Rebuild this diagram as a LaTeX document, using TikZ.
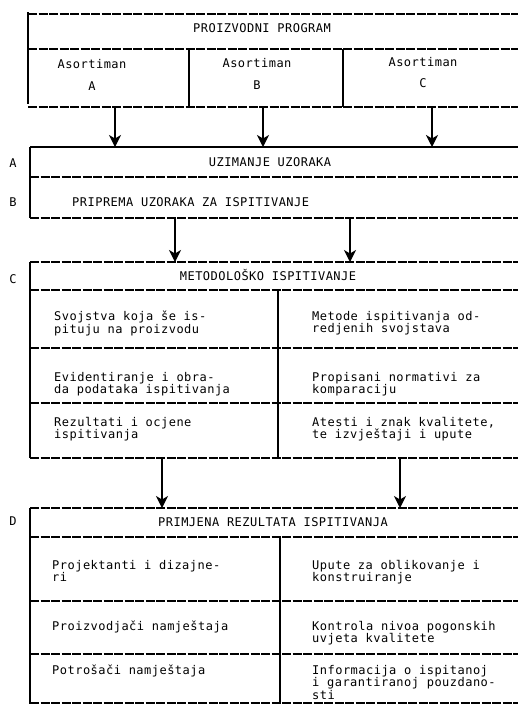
\documentclass[tikz,border=0pt]{standalone}
\usepackage{fontspec}
\setmonofont[LetterSpace=4]{DejaVu Sans Mono}
\usetikzlibrary{arrows.meta,positioning}
\tikzset{
  hline/.style={line width=1.3pt, dash pattern=on 9pt off 1.5pt},
  vline/.style={line width=1.1pt},
  cell/.style={anchor=north west, align=left},
  arr/.style={line width=1.3pt, -{Stealth[length=12pt,width=12pt,inset=3.5pt]}}
}

\begin{document}
\begin{tikzpicture}[x=1pt, y=-1pt, every node/.style={font=\ttfamily\fontsize{12}{12.5}\selectfont, inner sep=0pt}]
  \useasboundingbox (0,0) rectangle (518,704);
  % proizvodni program
  \foreach \y in {14,49,107} \draw[hline] (28,\y) -- (518,\y);
  \draw[vline] (28,12) -- (28,104);
  \foreach \x in {189,343} \draw[vline] (\x,49) -- (\x,107);
  \node (prog) at (262,28) {PROIZVODNI PROGRAM};
  \node[align=center] (asA) at (92,75) {Asortiman\\[9pt]A};
  \node[align=center] (asB) at (257,74) {Asortiman\\[9pt]B};
  \node[align=center] (asC) at (423,72.5) {Asortiman\\[9pt]C};
  \coordinate (t2t) at (0,147);
  \coordinate (pA) at (115,107);
  \coordinate (pB) at (263,107);
  \coordinate (pC) at (432,107);
  \foreach \p in {pA,pB,pC} \draw[arr] (\p) -- (\p |- t2t);
  % A, B
  \draw[line width=1.3pt] (30,147) -- (518,147);
  \foreach \y in {177,218} \draw[hline] (30,\y) -- (518,\y);
  \draw[vline] (30,147) -- (30,218);
  \node (labA) at (13,163) {A};
  \node (uzim) at (270,162) {UZIMANJE UZORAKA};
  \node (labB) at (13,202) {B};
  \node[anchor=west] (prip) at (72,202) {PRIPREMA UZORAKA ZA ISPITIVANJE};
  \coordinate (t3t) at (0,262);
  \coordinate (qA) at (175,218);
  \coordinate (qB) at (350,218);
  \foreach \p in {qA,qB} \draw[arr] (\p) -- (\p |- t3t);
  % C
  \foreach \y in {262,290,348,403,458} \draw[hline] (30,\y) -- (518,\y);
  \draw[vline] (30,262) -- (30,458);
  \draw[vline] (278,290) -- (278,458);
  \node (labC) at (13,279) {C};
  \node (metod) at (268,275) {METODOLOŠKO ISPITIVANJE};
  \node[cell] (c11) at (54,311) {Svojstva koja še is-\\pituju na proizvodu};
  \node[cell] (c12) at (312,311) {Metode ispitivanja od-\\redjenih svojstava};
  \node[cell] (c21) at (54,372) {Evidentiranje i obra-\\da podataka ispitivanja};
  \node[cell] (c22) at (312,372) {Propisani normativi za\\komparaciju};
  \node[cell] (c31) at (54,417) {Rezultati i ocjene\\ispitivanja};
  \node[cell] (c32) at (312,417) {Atesti i znak kvalitete,\\te izvještaji i upute};
  \coordinate (t4t) at (0,508);
  \coordinate (rA) at (162,458);
  \coordinate (rB) at (400,458);
  \foreach \p in {rA,rB} \draw[arr] (\p) -- (\p |- t4t);
  % D
  \foreach \y in {508,537,601,654,703} \draw[hline] (30,\y) -- (518,\y);
  \draw[vline] (30,508) -- (30,704);
  \draw[vline] (280,537) -- (280,704);
  \node (labD) at (13,521) {D};
  \node (prim) at (273,522) {PRIMJENA REZULTATA ISPITIVANJA};
  \node[cell] (d11) at (52,560) {Projektanti i dizajne-\\ri};
  \node[cell] (d12) at (312,560) {Upute za oblikovanje i\\konstruiranje};
  \node[cell] (d21) at (52,621) {Proizvodjači namještaja};
  \node[cell] (d22) at (312,621) {Kontrola nivoa pogonskih\\uvjeta kvalitete};
  \node[cell] (d31) at (52,665) {Potrošači namještaja};
  \node[cell] (d32) at (312,665) {Informacija o ispitanoj\\i garantiranoj pouzdano-\\sti};
\end{tikzpicture}
\end{document}
